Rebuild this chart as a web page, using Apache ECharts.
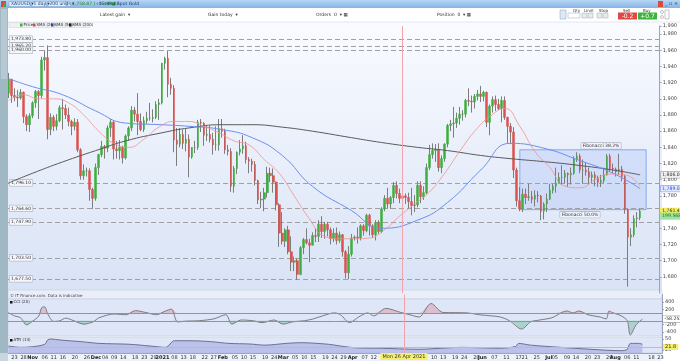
<!DOCTYPE html>
<html><head><meta charset="utf-8">
<script src="https://cdn.jsdelivr.net/npm/echarts@6/dist/echarts.min.js"></script>
<style>html,body{margin:0;padding:0;background:#fff}#c{width:680px;height:361px}</style>
</head><body><div id="c"></div>
<script>
// ---------- DATA ----------
const startDate = '2020-10-21', endDate = '2021-08-23';
const holidays = ['2020-12-25', '2021-01-01'];
const opens = [1907,1924,1904,1902,1901,1908,1878,1868,
1879,1895,1909,1904,1948,1951,1862,1877,1866,1873,1889,1888,1880,1872,1866,1871,1837,1805,1811,1811,1788,
1777,1815,1831,1841,1839,1864,1871,1838,1836,1840,1827,1854,1864,1886,1881,1872,1862,1873,1876,1876,1877,1893,
1895,1944,1950,1918,1913,1849,1844,1856,1845,1850,1828,1840,1840,1871,1870,1855,1856,1850,1843,1843,
1863,1860,1837,1835,1792,1814,1834,1838,1842,1825,1823,1819,1799,1775,1776,1784,1808,1805,1797,1769,
1734,1724,1738,1711,1698,1700,1683,1716,1726,1722,1719,1731,1730,1745,1736,1745,1738,1727,1734,1725,1732,1711,1685,
1708,1728,1729,1728,1743,1737,1756,1743,1732,1747,1736,1764,1777,1770,1778,1793,1783,1777,1780,1778,1773,1768,
1769,1793,1779,1784,1815,1831,1836,1837,1815,1826,1844,1867,1869,1870,1876,1881,1881,1898,1897,1896,1903,
1906,1903,1908,1871,1891,1899,1893,1888,1898,1877,1866,1859,1812,1774,1764,1782,1778,1779,1776,1781,1780,1761,
1770,1776,1787,1792,1796,1803,1803,1808,1806,1808,1826,1829,1812,1812,1810,1803,1806,1802,1797,1799,1806,1829,
1814,1813,1810,1813,1804,1763,1729,1732,1752,1753];
const highs = [1932,1925,1913,1911,1912,1909,1881,1882,
1897,1911,1911,1952,1960,1966,1882,1880,1881,1892,1900,1893,1889,1874,1876,1875,1839,1819,1815,1814,1790,
1820,1832,1848,1843,1867,1875,1873,1848,1849,1842,1856,1866,1891,1890,1907,1882,1878,1884,1895,1887,1897,1900,
1944,1952,1959,1926,1917,1864,1864,1862,1863,1856,1840,1848,1874,1875,1871,1867,1867,1858,1866,1875,
1875,1863,1843,1839,1817,1835,1849,1855,1847,1828,1826,1823,1800,1785,1790,1816,1815,1814,1798,1771,
1760,1740,1743,1730,1705,1703,1718,1728,1740,1727,1735,1740,1750,1755,1748,1748,1741,1740,1741,1736,1733,1713,1718,
1733,1731,1741,1745,1745,1758,1758,1745,1750,1750,1766,1781,1790,1780,1797,1798,1789,1790,1783,1784,1790,1781,
1798,1798,1792,1820,1843,1845,1844,1845,1830,1845,1869,1874,1890,1883,1890,1886,1900,1913,1904,1906,1911,
1916,1910,1909,1893,1903,1904,1900,1903,1903,1878,1870,1865,1815,1791,1789,1789,1795,1786,1787,1786,1781,1772,
1783,1795,1795,1815,1809,1818,1812,1809,1815,1829,1834,1832,1825,1821,1815,1810,1810,1805,1806,1815,1832,1832,
1820,1815,1832,1817,1806,1764,1740,1756,1760,1764];
const lows = [1901,1895,1897,1890,1899,1870,1860,1859,
1876,1889,1875,1901,1935,1850,1855,1860,1861,1871,1862,1875,1866,1855,1861,1834,1800,1800,1804,1774,1764,
1774,1806,1828,1826,1834,1853,1825,1826,1825,1820,1825,1848,1860,1872,1855,1860,1859,1869,1873,1871,1875,1874,
1893,1936,1902,1905,1834,1817,1840,1838,1835,1803,1826,1833,1837,1859,1842,1848,1846,1831,1836,1836,
1852,1832,1830,1785,1784,1807,1830,1832,1820,1808,1810,1793,1770,1765,1761,1778,1797,1784,1762,1717,
1720,1717,1708,1687,1687,1676,1682,1708,1720,1698,1719,1723,1723,1728,1727,1730,1720,1723,1720,1722,1705,1678,1677,
1705,1725,1721,1725,1731,1735,1731,1728,1725,1733,1734,1761,1765,1764,1771,1777,1771,1775,1770,1764,1756,1760,
1766,1771,1775,1782,1812,1826,1822,1810,1808,1822,1840,1860,1852,1864,1868,1873,1877,1891,1883,1888,1898,
1896,1897,1865,1855,1883,1885,1886,1871,1874,1845,1844,1802,1767,1761,1760,1770,1774,1771,1767,1772,1750,1751,
1760,1775,1783,1784,1795,1794,1795,1791,1794,1806,1822,1808,1795,1805,1794,1796,1792,1791,1791,1796,1805,1810,
1808,1804,1806,1798,1758,1668,1718,1729,1741,1750];
const closes = [1924,1904,1902,1901,1908,1878,1868,1879,
1895,1909,1904,1948,1951,1862,1877,1866,1873,1889,1888,1880,1872,1866,1871,1837,1805,1811,1811,1788,1777,
1815,1831,1841,1839,1864,1871,1838,1836,1840,1827,1854,1864,1886,1881,1872,1862,1873,1876,1876,1877,1893,1895,
1944,1950,1918,1913,1849,1844,1856,1845,1850,1828,1840,1840,1871,1870,1855,1856,1850,1843,1843,1863,
1860,1837,1835,1792,1814,1834,1838,1842,1825,1823,1819,1799,1775,1776,1784,1808,1805,1797,1769,1734,
1724,1738,1711,1698,1700,1683,1716,1726,1722,1719,1731,1730,1745,1736,1745,1738,1727,1734,1725,1732,1711,1685,1708,
1728,1729,1728,1743,1737,1756,1743,1732,1747,1736,1764,1777,1770,1778,1793,1783,1777,1780,1778,1773,1768,1769,
1793,1779,1784,1815,1831,1836,1837,1815,1826,1844,1867,1869,1870,1876,1881,1881,1898,1897,1896,1903,1906,
1903,1908,1871,1891,1899,1893,1888,1898,1877,1866,1859,1812,1774,1764,1782,1778,1779,1776,1781,1780,1761,1770,
1776,1787,1792,1796,1803,1803,1808,1806,1808,1826,1829,1812,1812,1810,1803,1806,1802,1797,1799,1806,1829,1814,
1813,1810,1813,1804,1763,1729,1732,1752,1753,1761];

const sma20 = [['2020-10-21',1898],['2020-10-28',1905],['2020-11-04',1900],['2020-11-11',1900],['2020-11-18',1895],['2020-11-25',1880],['2020-12-02',1860],['2020-12-09',1845],['2020-12-16',1840],['2020-12-23',1850],['2020-12-31',1865],['2021-01-08',1872],['2021-01-15',1872],['2021-01-22',1866],['2021-01-29',1858],['2021-02-05',1848],['2021-02-12',1843],['2021-02-19',1825],['2021-02-26',1808],['2021-03-05',1780],['2021-03-12',1752],['2021-03-19',1730],['2021-03-26',1727],['2021-04-02',1727],['2021-04-09',1728],['2021-04-16',1738],['2021-04-23',1755],['2021-04-30',1770],['2021-05-07',1785],['2021-05-14',1808],['2021-05-21',1835],['2021-05-28',1860],['2021-06-04',1878],['2021-06-11',1888],['2021-06-18',1866],['2021-06-25',1835],['2021-07-02',1815],['2021-07-09',1792],['2021-07-16',1790],['2021-07-23',1800],['2021-07-30',1807],['2021-08-06',1806],['2021-08-13',1792]];
const sma50 = [['2020-10-21',1925],['2020-11-02',1915],['2020-11-16',1905],['2020-12-01',1885],['2020-12-15',1870],['2021-01-04',1868],['2021-01-15',1866],['2021-02-01',1862],['2021-02-15',1852],['2021-03-01',1830],['2021-03-15',1792],['2021-04-01',1762],['2021-04-15',1740],['2021-05-03',1750],['2021-05-17',1772],['2021-06-01',1812],['2021-06-15',1845],['2021-07-01',1838],['2021-07-15',1825],['2021-08-02',1808],['2021-08-13',1789]];
const sma200 = [['2020-10-21',1796],['2020-11-02',1808],['2020-11-16',1822],['2020-12-01',1836],['2020-12-15',1848],['2021-01-04',1858],['2021-01-15',1864],['2021-02-01',1868],['2021-02-15',1868],['2021-03-01',1865],['2021-03-15',1860],['2021-04-01',1852],['2021-04-15',1846],['2021-05-03',1840],['2021-05-17',1836],['2021-06-01',1830],['2021-06-15',1826],['2021-07-01',1822],['2021-07-15',1818],['2021-08-02',1812],['2021-08-13',1806]];

const cci = [['2020-10-21',115],['2020-10-23',30],['2020-10-27',-20],['2020-10-29',-210],['2020-11-02',-110],['2020-11-04',25],['2020-11-05',250],['2020-11-06',270],['2020-11-09',80],['2020-11-11',-120],['2020-11-13',-100],['2020-11-17',-30],['2020-11-19',-80],['2020-11-25',-190],['2020-11-30',-130],['2020-12-02',-20],['2020-12-09',80],['2020-12-15',60],['2020-12-18',170],['2020-12-24',110],['2020-12-30',60],['2021-01-05',160],['2021-01-07',210],['2021-01-11',-130],['2021-01-14',-110],['2021-01-20',-100],['2021-01-27',-50],['2021-02-02',60],['2021-02-04',-190],['2021-02-09',-80],['2021-02-15',-100],['2021-02-18',-150],['2021-02-24',-80],['2021-03-01',-190],['2021-03-04',-130],['2021-03-10',-100],['2021-03-15',-50],['2021-03-18',30],['2021-03-24',110],['2021-03-26',60],['2021-03-31',-150],['2021-04-05',0],['2021-04-08',110],['2021-04-12',30],['2021-04-16',230],['2021-04-23',120],['2021-04-28',60],['2021-05-03',0],['2021-05-07',360],['2021-05-13',120],['2021-05-25',110],['2021-05-31',60],['2021-06-04',30],['2021-06-09',0],['2021-06-14',-100],['2021-06-18',-320],['2021-06-23',-130],['2021-06-28',-80],['2021-07-02',-20],['2021-07-09',160],['2021-07-13',110],['2021-07-15',160],['2021-07-20',60],['2021-07-26',0],['2021-07-28',-50],['2021-07-29',160],['2021-07-30',120],['2021-08-04',30],['2021-08-06',-100],['2021-08-09',-480],['2021-08-11',-200],['2021-08-13',-58]];
const atr = [['2020-10-21',34],['2020-10-27',31],['2020-11-02',32.5],['2020-11-06',38],['2020-11-09',48],['2020-11-10',50],['2020-11-13',47.7],['2020-11-24',44],['2020-12-02',40],['2020-12-16',38],['2020-12-28',34],['2021-01-05',31],['2021-01-08',46],['2021-01-15',46],['2021-01-26',44],['2021-02-03',40],['2021-02-12',38.6],['2021-02-19',36],['2021-03-02',40],['2021-03-09',41.6],['2021-03-22',38],['2021-03-26',34],['2021-04-02',30],['2021-04-14',29],['2021-05-03',26.6],['2021-05-21',31],['2021-06-09',29],['2021-06-16',33],['2021-06-17',40],['2021-06-23',36],['2021-07-07',31],['2021-07-21',26.6],['2021-08-04',23.4],['2021-08-06',26.6],['2021-08-09',40],['2021-08-12',40],['2021-08-13',38]];

const levels = [1973.8, 1965.2, 1960.0, 1796.1, 1764.6, 1747.9, 1703.5, 1677.5];
const fib382 = 1837, fib500 = 1763;
const fibStart = '2021-06-18', fibEnd = '2021-08-17';
const cursorDate = '2021-04-26', cursorATR = 31.8;
const lastPriceText = '1,761.47', lastCciText = '-58.252';
const priceYTicks = {min: 1660, max: 1990, interval: 20};
const xTickLabels = {'2020-10-23':'23','2020-10-28':'28','2020-11-02':'Nov','2020-11-06':'06','2020-11-11':'11','2020-11-16':'16','2020-11-20':'20','2020-11-26':'26','2020-12-01':'Dec','2020-12-04':'04','2020-12-09':'09','2020-12-14':'14','2020-12-18':'18','2020-12-23':'23','2020-12-29':'29','2021-01-04':'2021','2021-01-08':'08','2021-01-13':'13','2021-01-18':'18','2021-01-22':'22','2021-01-27':'27','2021-02-01':'Feb','2021-02-05':'05','2021-02-10':'10','2021-02-15':'15','2021-02-19':'19','2021-02-24':'24','2021-03-01':'Mar','2021-03-05':'05','2021-03-10':'10','2021-03-15':'15','2021-03-19':'19','2021-03-24':'24','2021-03-29':'29','2021-04-01':'Apr','2021-04-07':'07','2021-04-12':'12','2021-04-16':'16','2021-04-21':'21','2021-05-03':'May','2021-05-10':'10','2021-05-13':'13','2021-05-19':'19','2021-05-24':'24','2021-05-28':'28','2021-06-01':'Jun','2021-06-07':'07','2021-06-11':'11','2021-06-17':'17','2021-06-21':'21','2021-06-25':'25','2021-07-01':'Jul','2021-07-05':'05','2021-07-09':'09','2021-07-14':'14','2021-07-20':'20','2021-07-23':'23','2021-07-29':'29','2021-08-02':'Aug','2021-08-06':'06','2021-08-11':'11','2021-08-18':'18','2021-08-23':'23'};
const monthLabels = ['Nov','Dec','2021','Feb','Mar','Apr','May','Jun','Jul','Aug'];

// ---------- categories: trading weekdays ----------
const dates = [];
(function(){
  const d = new Date(startDate + 'T12:00:00Z'), e = new Date(endDate + 'T12:00:00Z');
  while (d <= e) {
    const wd = d.getUTCDay(), s = d.toISOString().slice(0,10);
    if (wd !== 0 && wd !== 6 && holidays.indexOf(s) < 0) dates.push(s);
    d.setUTCDate(d.getUTCDate() + 1);
  }
})();
const wickData = opens.map((o,i)=>[o, closes[i], lows[i], highs[i]]);
const bodyData = opens.map((o,i)=>[o, closes[i], Math.min(o,closes[i]), Math.max(o,closes[i])]);
const cciHigh = cci.map(p=>[p[0], Math.max(p[1],100)]);
const cciLow = cci.map(p=>[p[0], Math.min(p[1],-100)]);
const fmt = v => v.toLocaleString('en-US',{minimumFractionDigits:2, maximumFractionDigits:2});
const lastOf = a => a[a.length-1][1];

const F = 'DejaVu Sans, Arial, sans-serif';
const chart = echarts.init(document.getElementById('c'), null, {renderer:'canvas'});
const xBase = (gi, showLabels) => ({
  type:'category', gridIndex:gi, data:dates, boundaryGap:true,
  axisLine:{show:showLabels, lineStyle:{color:'#9aa6c0'}}, axisTick:{show:false},
  axisLabel:{show:showLabels, fontSize:5, fontFamily:F, color:'#333', margin:2,
    interval:(i,v)=>xTickLabels[v]!==undefined,
    formatter:(v)=>{const t=xTickLabels[v]; return monthLabels.indexOf(t)>=0?'{b|'+t+'}':t;},
    rich:{b:{fontWeight:'bold',fontSize:5,fontFamily:F,color:'#222'}}},
  splitLine:{show:false}
});
const yLab = {fontSize:5, fontFamily:F, color:'#444', margin:3};
const axisBox = (v, text, bg, fg, border) => ({yAxis:v, lineStyle:{color:'rgba(0,0,0,0)', width:0.1},
  label:{show:true, position:'end', distance:1, formatter:text, fontSize:4.6, fontFamily:F, color:fg, backgroundColor:bg,
    borderColor:border||bg, borderWidth:0.5, padding:[0.5,1.5]}});

const option = {
  animation:false,
  backgroundColor:'#ffffff',
  grid:[
    {left:7, width:655, top:26, height:267},
    {left:7, width:655, top:294.5, height:45},
    {left:7, width:655, top:337, height:16}
  ],
  xAxis:[xBase(0,false), xBase(1,false), xBase(2,true)],
  yAxis:[
    {type:'value', gridIndex:0, position:'right', min:priceYTicks.min, max:priceYTicks.max, interval:priceYTicks.interval,
      axisLine:{show:true, lineStyle:{color:'#9aa6c0'}}, axisTick:{show:true, length:2, lineStyle:{color:'#9aa6c0'}},
      axisLabel:Object.assign({showMinLabel:false, formatter:v=>v.toLocaleString('en-US')}, yLab), splitLine:{show:false}},
    {type:'value', gridIndex:1, position:'right', min:-600, max:600,
      axisLine:{show:true, lineStyle:{color:'#9aa6c0'}}, axisTick:{show:true, length:2, customValues:[-400,-200,200,400]},
      axisLabel:Object.assign({customValues:[-400,-200,200,400]}, yLab), splitLine:{show:false}},
    {type:'value', gridIndex:2, position:'right', min:18.2, max:54.5,
      axisLine:{show:true, lineStyle:{color:'#9aa6c0'}}, axisTick:{show:true, length:2, customValues:[25,50]},
      axisLabel:Object.assign({customValues:[25,50]}, yLab), splitLine:{show:false}}
  ],
  series:[
    {name:'wick', type:'candlestick', xAxisIndex:0, yAxisIndex:0, data:wickData, barWidth:1, z:3,
      itemStyle:{color:'#7d7d7d', color0:'#7d7d7d', borderColor:'#7d7d7d', borderColor0:'#7d7d7d', borderWidth:1},
      markLine:{silent:true, symbol:'none', z:1,
        lineStyle:{color:'#a0a0a0', width:1, type:[5,3]},
        label:{show:false},
        data: levels.map(v=>({yAxis:v}))},
      markArea:{silent:true, z:1,
        itemStyle:{color:'rgba(130,165,245,0.22)', borderColor:'rgba(110,150,235,0.75)', borderWidth:1},
        data:[[{xAxis:fibStart, yAxis:fib382},{xAxis:fibEnd, yAxis:fib500}]]},
      markPoint:{silent:true, symbol:'rect', symbolSize:0,
        data: levels.map(v=>({coord:[dates[0], v], value:v,
          label:{show:true, position:'right', distance:1, formatter:fmt(v), fontSize:4.5, fontFamily:F, color:'#333',
            backgroundColor:'#f4f6fb', borderColor:'#9aa0aa', borderWidth:0.5, padding:[0.5,1.5]}}))
          .concat([
            {coord:['2021-07-27', fib382], label:{show:true, position:'top', distance:1, formatter:'Fibonacci 38.2%', fontSize:4.5, fontFamily:F, color:'#333', backgroundColor:'#eef2fb', borderColor:'#9aa0aa', borderWidth:0.5, padding:[0.5,1.5]}},
            {coord:['2021-07-16', fib500], label:{show:true, position:'bottom', distance:2, formatter:'Fibonacci 50.0%', fontSize:4.5, fontFamily:F, color:'#333', backgroundColor:'#eef2fb', borderColor:'#9aa0aa', borderWidth:0.5, padding:[0.5,1.5]}}
          ])}
    },
    {name:'Price', type:'candlestick', xAxisIndex:0, yAxisIndex:0, data:bodyData, barWidth:2.2, z:4, clip:false,
      itemStyle:{color:'#3fae3f', color0:'#d9534f', borderColor:'#3fae3f', borderColor0:'#d9534f', borderWidth:0.5},
      markLine:{silent:true, symbol:'none', z:10,
        data:[
          {xAxis:cursorDate, lineStyle:{color:'#f3a3ab', width:1, type:'solid'}, label:{show:false}},
          axisBox(lastOf(sma200), fmt(lastOf(sma200)), '#f0f0f0', '#333', '#888'),
          axisBox(lastOf(sma50), fmt(lastOf(sma50)), '#dfe8ff', '#2a4ee0', '#6e8ff0'),
          axisBox(closes[closes.length-1], lastPriceText, '#f3ec5a', '#333'),
          axisBox(closes[closes.length-1]-6, '199.568', '#9ee39e', '#1f6f1f')
        ]}},
    {name:'SMA (200)', type:'line', xAxisIndex:0, yAxisIndex:0, data:sma200, smooth:true, symbol:'none', z:5,
      lineStyle:{color:'#5a5a5a', width:1}},
    {name:'SMA (50)', type:'line', xAxisIndex:0, yAxisIndex:0, data:sma50, smooth:true, symbol:'none', z:5,
      lineStyle:{color:'#6e8ff0', width:1}},
    {name:'SMA (20)', type:'line', xAxisIndex:0, yAxisIndex:0, data:sma20, smooth:true, symbol:'none', z:5,
      lineStyle:{color:'#f09090', width:0.8}},
    // CCI
    {name:'cciHigh', type:'line', xAxisIndex:1, yAxisIndex:1, data:cciHigh, smooth:0.3, symbol:'none', z:2,
      lineStyle:{width:0}, areaStyle:{origin:100, color:'rgba(215,160,175,0.8)'}},
    {name:'cciLow', type:'line', xAxisIndex:1, yAxisIndex:1, data:cciLow, smooth:0.3, symbol:'none', z:2,
      lineStyle:{width:0}, areaStyle:{origin:-100, color:'rgba(130,195,170,0.8)'}},
    {name:'CCI (20)', type:'line', xAxisIndex:1, yAxisIndex:1, data:cci, smooth:0.3, symbol:'none', z:4,
      lineStyle:{color:'#7a7a80', width:1},
      markLine:{silent:true, symbol:'none', lineStyle:{color:'#7f8cf0', width:1, type:'solid'},
        data:[{yAxis:100, label:{show:false}},{yAxis:-100, label:{show:false}},{xAxis:cursorDate, lineStyle:{color:'#f3a3ab'}, label:{show:false}},
          axisBox(lastOf(cci), lastCciText, '#ffffff', '#333', '#888')]}},
    // ATR
    {name:'ATR (14)', type:'line', xAxisIndex:2, yAxisIndex:2, data:atr, smooth:0.3, symbol:'none', z:3,
      lineStyle:{color:'#6d6f8f', width:1}, areaStyle:{origin:'start', color:'#aab0e6'},
      markLine:{silent:true, symbol:'none', lineStyle:{color:'#f3a3ab', width:1, type:'solid'},
        data:[
          {xAxis:cursorDate, label:{show:true, position:'start', distance:0, formatter:'Mon 26 Apr 2021', fontSize:5, fontFamily:F, color:'#333', backgroundColor:'#f5ee6a', padding:[1,2]}},
          {yAxis:cursorATR, label:{show:true, position:'end', distance:1, formatter:'21.8', fontSize:5, fontFamily:F, color:'#333', backgroundColor:'#f5ee6a', padding:[0.5,2]}}
        ]}}
  ],
  graphic:[
    // backgrounds (behind series)
    {type:'rect', z:-10, silent:true, shape:{x:8,y:22,width:654,height:268},
      style:{fill:new echarts.graphic.LinearGradient(0,0,0,1,[{offset:0,color:'#f9fbff'},{offset:1,color:'#d9e3f6'}])}},
    {type:'rect', z:-10, silent:true, shape:{x:8,y:290,width:654,height:9}, style:{fill:'#e9eef9', stroke:'#b9c4df', lineWidth:0.5}},
    {type:'rect', z:-10, silent:true, shape:{x:8,y:299,width:654,height:37}, style:{fill:'#dfe6f8', stroke:'#b9c4df', lineWidth:0.5}},
    {type:'rect', z:-10, silent:true, shape:{x:8,y:337,width:654,height:16}, style:{fill:'#dfe6f8', stroke:'#b9c4df', lineWidth:0.5}},
    {type:'rect', z:-10, silent:true, shape:{x:8,y:353,width:654,height:8}, style:{fill:'#eef2fa'}},
    // top title bar
    {type:'rect', z:50, silent:true, shape:{x:0,y:0,width:680,height:8},
      style:{fill:new echarts.graphic.LinearGradient(0,0,0,1,[{offset:0,color:'#b7d6f4'},{offset:1,color:'#86b4e6'}])}},
    {type:'rect', z:50, silent:true, shape:{x:0,y:8,width:680,height:14}, style:{fill:'#ffffff'}},
    {type:'line', z:50, silent:true, shape:{x1:8,y1:22,x2:680,y2:22}, style:{stroke:'#c8d0dc', lineWidth:0.5}},
    {type:'rect', z:51, silent:true, shape:{x:1,y:1,width:5,height:6}, style:{fill:'#d84a3a'}},
    {type:'rect', z:51, silent:true, shape:{x:3,y:3,width:3,height:4}, style:{fill:'#3daa3a'}},
    {type:'rect', z:51, silent:true, shape:{x:9,y:1.5,width:21,height:5}, style:{fill:'#dfeeff', stroke:'#7aa0cc', lineWidth:0.5}},
    {type:'text', z:52, silent:true, style:{x:11,y:4,text:'XAUUSD ▾',fontSize:4.5,fontFamily:F,fill:'#1a3a6a',verticalAlign:'middle'}},
    {type:'rect', z:51, silent:true, shape:{x:32,y:1.5,width:14,height:5}, style:{fill:'#dfeeff', stroke:'#7aa0cc', lineWidth:0.5}},
    {type:'text', z:52, silent:true, style:{x:33.5,y:4,text:'1 day ▾',fontSize:4.5,fontFamily:F,fill:'#1a3a6a',verticalAlign:'middle'}},
    {type:'rect', z:51, silent:true, shape:{x:48,y:1.5,width:18,height:5}, style:{fill:'#dfeeff', stroke:'#7aa0cc', lineWidth:0.5}},
    {type:'text', z:52, silent:true, style:{x:49.5,y:4,text:'200 units ▾',fontSize:4.5,fontFamily:F,fill:'#1a3a6a',verticalAlign:'middle'}},
    {type:'rect', z:51, silent:true, shape:{x:67.5,y:2,width:3,height:4}, style:{fill:'#ffffff', stroke:'#7aa0cc', lineWidth:0.5}},
    {type:'text', z:52, silent:true, style:{x:72,y:4,text:'1,758.87 (+0.48%)',fontSize:4.5,fontFamily:F,fill:'#1e8a1e',verticalAlign:'middle'}},
    {type:'text', z:52, silent:true, style:{x:99,y:4,text:'15:48:02',fontSize:4.5,fontFamily:F,fill:'#1a3a6a',verticalAlign:'middle'}},
    {type:'rect', z:51, silent:true, shape:{x:112,y:2.5,width:3,height:3}, style:{fill:'#2aa52a'}},
    {type:'text', z:52, silent:true, style:{x:117,y:4,text:'Spot Gold',fontSize:4.5,fontFamily:F,fill:'#1a3a6a',verticalAlign:'middle'}},
    {type:'rect', z:51, silent:true, shape:{x:658,y:1,width:5,height:6}, style:{fill:'#d84a3a'}},
    {type:'text', z:52, silent:true, style:{x:665,y:4,text:'_ ▫ ×',fontSize:5,fontFamily:F,fill:'#1a3a6a',verticalAlign:'middle'}},
    // second row
    {type:'text', z:52, silent:true, style:{x:100,y:14.5,text:'Latest gain  ▾',fontSize:4.5,fontFamily:F,fill:'#333',verticalAlign:'middle'}},
    {type:'text', z:52, silent:true, style:{x:208,y:14.5,text:'Gain today  ▾',fontSize:4.5,fontFamily:F,fill:'#333',verticalAlign:'middle'}},
    {type:'text', z:52, silent:true, style:{x:316,y:14.5,text:'Orders  0  ▾ ▦',fontSize:4.5,fontFamily:F,fill:'#333',verticalAlign:'middle'}},
    {type:'text', z:52, silent:true, style:{x:437,y:14.5,text:'Position  0  ▾ ▦',fontSize:4.5,fontFamily:F,fill:'#333',verticalAlign:'middle'}},
    {type:'rect', z:51, silent:true, shape:{x:560,y:10,width:6,height:9}, style:{fill:'#dfe8f5', stroke:'#8aa0c0', lineWidth:0.5}},
    {type:'text', z:52, silent:true, style:{x:573,y:10.5,text:'Qty',fontSize:4,fontFamily:F,fill:'#333',verticalAlign:'middle'}},
    {type:'rect', z:51, silent:true, shape:{x:568,y:13,width:12,height:5}, style:{fill:'#ffffff', stroke:'#9aa8bc', lineWidth:0.5}},
    {type:'text', z:52, silent:true, style:{x:584,y:10.5,text:'Limit',fontSize:4,fontFamily:F,fill:'#333',verticalAlign:'middle'}},
    {type:'rect', z:51, silent:true, shape:{x:582,y:13,width:5,height:5}, style:{fill:'#e6ece6', stroke:'#9aa8bc', lineWidth:0.5}},
    {type:'rect', z:51, silent:true, shape:{x:588,y:13,width:5,height:5}, style:{fill:'#e6ece6', stroke:'#9aa8bc', lineWidth:0.5}},
    {type:'text', z:52, silent:true, style:{x:599,y:10.5,text:'Stop',fontSize:4,fontFamily:F,fill:'#333',verticalAlign:'middle'}},
    {type:'rect', z:51, silent:true, shape:{x:597,y:13,width:5,height:5}, style:{fill:'#e6ece6', stroke:'#9aa8bc', lineWidth:0.5}},
    {type:'rect', z:51, silent:true, shape:{x:603,y:13,width:5,height:5}, style:{fill:'#e6ece6', stroke:'#9aa8bc', lineWidth:0.5}},
    {type:'text', z:52, silent:true, style:{x:623,y:10.5,text:'Sell',fontSize:4,fontFamily:F,fill:'#333',verticalAlign:'middle'}},
    {type:'rect', z:51, silent:true, shape:{x:618,y:12.5,width:19,height:7}, style:{fill:'#e04848'}},
    {type:'text', z:52, silent:true, style:{x:627.5,y:16,text:'-0.2',fontSize:6,fontFamily:F,fill:'#ffffff',align:'center',verticalAlign:'middle'}},
    {type:'text', z:52, silent:true, style:{x:643,y:10.5,text:'Buy',fontSize:4,fontFamily:F,fill:'#333',verticalAlign:'middle'}},
    {type:'rect', z:51, silent:true, shape:{x:638,y:12.5,width:19,height:7}, style:{fill:'#3cb43c'}},
    {type:'text', z:52, silent:true, style:{x:647.5,y:16,text:'+0.7',fontSize:6,fontFamily:F,fill:'#ffffff',align:'center',verticalAlign:'middle'}},
    {type:'circle', z:51, silent:true, shape:{cx:662,cy:12,r:1.5}, style:{fill:'#fff', stroke:'#888', lineWidth:0.5}},
    {type:'circle', z:51, silent:true, shape:{cx:662,cy:17,r:1.5}, style:{fill:'#fff', stroke:'#888', lineWidth:0.5}},
    {type:'rect', z:51, silent:true, shape:{x:665,y:10,width:4,height:9}, style:{fill:'#fff', stroke:'#888', lineWidth:0.5}},
    // left tool strip
    {type:'rect', z:50, silent:true, shape:{x:0,y:8,width:8,height:353}, style:{fill:'#9fb8c4'}},
    {type:'rect', z:51, silent:true, shape:{x:1,y:9,width:6,height:70}, style:{fill:'#b6c9d2'}},
    // legend strip inside chart
    {type:'rect', z:50, silent:true, shape:{x:9,y:22.5,width:81,height:5}, style:{fill:'#eef0f4', stroke:'#c0c6d0', lineWidth:0.4}},
    {type:'rect', z:51, silent:true, shape:{x:20,y:23.5,width:2.5,height:3}, style:{fill:'#3fae3f'}},
    {type:'text', z:52, silent:true, style:{x:23.5,y:25,text:'Price',fontSize:4,fontFamily:F,fill:'#333',verticalAlign:'middle'}},
    {type:'rect', z:51, silent:true, shape:{x:33,y:23.5,width:2.5,height:3}, style:{fill:'#e04848'}},
    {type:'text', z:52, silent:true, style:{x:36.5,y:25,text:'SMA (20)',fontSize:4,fontFamily:F,fill:'#333',verticalAlign:'middle'}},
    {type:'rect', z:51, silent:true, shape:{x:51,y:23.5,width:2.5,height:3}, style:{fill:'#2a4ee0'}},
    {type:'text', z:52, silent:true, style:{x:54.5,y:25,text:'SMA (50)',fontSize:4,fontFamily:F,fill:'#333',verticalAlign:'middle'}},
    {type:'rect', z:51, silent:true, shape:{x:69,y:23.5,width:2.5,height:3}, style:{fill:'#111'}},
    {type:'text', z:52, silent:true, style:{x:72.5,y:25,text:'SMA (200)',fontSize:4,fontFamily:F,fill:'#333',verticalAlign:'middle'}},
    // lower panel captions
    {type:'text', z:52, silent:true, style:{x:10,y:295.5,text:'© IT Finance.com. Data is indicative',fontSize:4,fontFamily:F,fill:'#444',verticalAlign:'middle'}},
    {type:'rect', z:51, silent:true, shape:{x:10,y:301,width:2.5,height:2.5}, style:{fill:'#111'}},
    {type:'text', z:52, silent:true, style:{x:13.5,y:302.3,text:'CCI (20)',fontSize:4,fontFamily:F,fill:'#333',verticalAlign:'middle'}},
    {type:'rect', z:51, silent:true, shape:{x:10,y:339,width:2.5,height:2.5}, style:{fill:'#111'}},
    {type:'text', z:52, silent:true, style:{x:13.5,y:340.3,text:'ATR (14)',fontSize:4,fontFamily:F,fill:'#333',verticalAlign:'middle'}},
    {type:'rect', z:50, silent:true, shape:{x:0,y:353,width:8,height:8}, style:{fill:'#c9d6de'}}
  ]
};
chart.setOption(option);
</script></body></html>
